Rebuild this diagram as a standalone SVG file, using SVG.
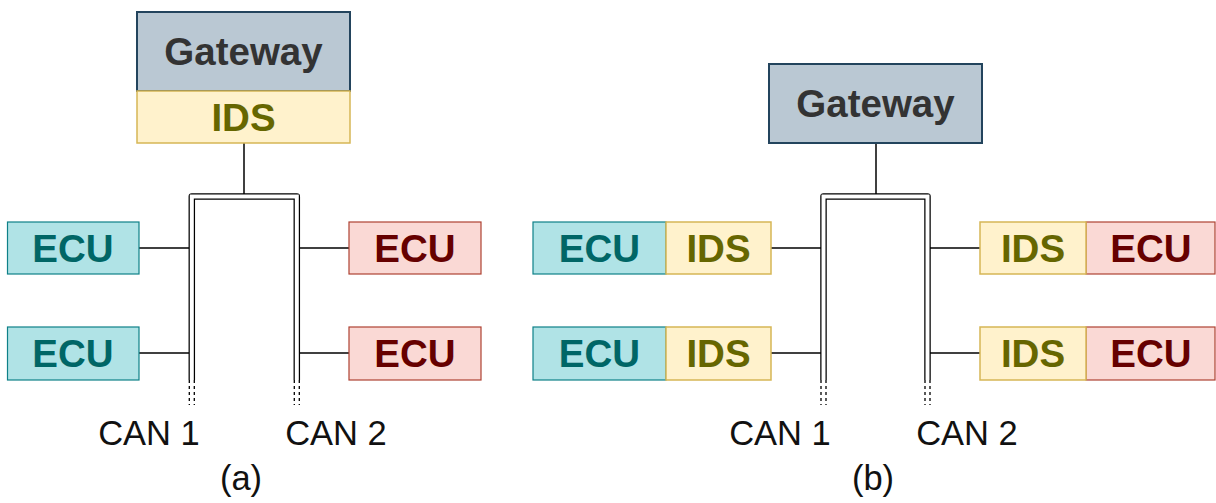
<svg xmlns="http://www.w3.org/2000/svg" width="1216" height="503" viewBox="0 0 1216 503">
  <style>
    .gw { fill: #bac8d3; stroke: #23445d; stroke-width: 2; }
    .ids { fill: #fff2cc; stroke: #d6b656; stroke-width: 1.5; }
    .ecuA { fill: #b0e3e6; stroke: #0e8088; stroke-width: 1.2; }
    .ecuB { fill: #fad9d5; stroke: #ae4132; stroke-width: 1.2; }
    .lbl { font-family: "Liberation Sans", Arial, sans-serif; font-weight: bold; font-size: 38.5px; text-anchor: middle; }
    .tGw { fill: #333333; }
    .tIds { fill: #666600; }
    .tEcuA { fill: #006666; }
    .tEcuB { fill: #660000; }
    .cap { font-family: "Liberation Sans", Arial, sans-serif; font-size: 34.5px; fill: #111111; text-anchor: middle; }
    .wire { stroke: #000000; stroke-width: 1.5; fill: none; }
    .busOuter { stroke: #000000; stroke-width: 6.5; fill: none; stroke-linejoin: round; }
    .busInner { stroke: #ffffff; stroke-width: 4; fill: none; stroke-linejoin: miter; }
    .busDash { stroke: #000000; stroke-width: 1.3; fill: none; stroke-dasharray: 3 3; }
  </style>

  <!-- connectors: CAN buses and stubs -->
  <g id="connectors">
    <!-- (a) -->
    <line class="wire" x1="244" y1="143" x2="244" y2="194"/>
    <path class="busOuter" d="M191.8,380 V196.5 H296.8 V380"/>
    <path class="busInner" d="M191.8,382 V196.5 H296.8 V382"/>
    <line class="busDash" x1="189.3" y1="380" x2="189.3" y2="405"/>
    <line class="busDash" x1="194.3" y1="380" x2="194.3" y2="405"/>
    <line class="busDash" x1="294.3" y1="380" x2="294.3" y2="405"/>
    <line class="busDash" x1="299.3" y1="380" x2="299.3" y2="405"/>
    <line class="wire" x1="139" y1="248" x2="189" y2="248"/>
    <line class="wire" x1="139" y1="353" x2="189" y2="353"/>
    <line class="wire" x1="299.5" y1="248" x2="349" y2="248"/>
    <line class="wire" x1="299.5" y1="353" x2="349" y2="353"/>

    <!-- (b) -->
    <line class="wire" x1="876" y1="143" x2="876" y2="194"/>
    <path class="busOuter" d="M823.5,380 V196.5 H927.5 V380"/>
    <path class="busInner" d="M823.5,382 V196.5 H927.5 V382"/>
    <line class="busDash" x1="821" y1="380" x2="821" y2="405"/>
    <line class="busDash" x1="826" y1="380" x2="826" y2="405"/>
    <line class="busDash" x1="925" y1="380" x2="925" y2="405"/>
    <line class="busDash" x1="930" y1="380" x2="930" y2="405"/>
    <line class="wire" x1="771" y1="248" x2="821" y2="248"/>
    <line class="wire" x1="771" y1="353" x2="821" y2="353"/>
    <line class="wire" x1="930" y1="248" x2="980" y2="248"/>
    <line class="wire" x1="930" y1="353" x2="980" y2="353"/>
  </g>

  <!-- (a) gateway with IDS -->
  <g id="gatewayA">
    <rect class="gw" x="137" y="12" width="213" height="79"/>
    <text class="lbl tGw" x="243.5" y="64.5">Gateway</text>
  </g>
  <g id="idsGatewayA">
    <rect class="ids" x="137" y="91" width="213" height="52"/>
    <text class="lbl tIds" x="243.5" y="130.5">IDS</text>
  </g>

  <!-- (a) ECUs -->
  <g id="ecuA1">
    <rect class="ecuA" x="7.5" y="222" width="131.5" height="52"/>
    <text class="lbl tEcuA" x="73" y="261.5">ECU</text>
  </g>
  <g id="ecuA2">
    <rect class="ecuA" x="7.5" y="327" width="131.5" height="53"/>
    <text class="lbl tEcuA" x="73" y="367">ECU</text>
  </g>
  <g id="ecuA3">
    <rect class="ecuB" x="349" y="222" width="132" height="52"/>
    <text class="lbl tEcuB" x="415" y="261.5">ECU</text>
  </g>
  <g id="ecuA4">
    <rect class="ecuB" x="349" y="327" width="132" height="53"/>
    <text class="lbl tEcuB" x="415" y="367">ECU</text>
  </g>

  <!-- (b) gateway -->
  <g id="gatewayB">
    <rect class="gw" x="769" y="64" width="213" height="79"/>
    <text class="lbl tGw" x="875.5" y="117">Gateway</text>
  </g>

  <!-- (b) ECUs with local IDS -->
  <g id="ecuB1">
    <rect class="ecuA" x="533" y="222" width="133" height="52"/>
    <text class="lbl tEcuA" x="599.5" y="261.5">ECU</text>
    <rect class="ids" x="666" y="222" width="105" height="52"/>
    <text class="lbl tIds" x="718.5" y="261.5">IDS</text>
  </g>
  <g id="ecuB2">
    <rect class="ecuA" x="533" y="327" width="133" height="53"/>
    <text class="lbl tEcuA" x="599.5" y="367">ECU</text>
    <rect class="ids" x="666" y="327" width="105" height="53"/>
    <text class="lbl tIds" x="718.5" y="367">IDS</text>
  </g>
  <g id="ecuB3">
    <rect class="ecuB" x="1086" y="222" width="129" height="52"/>
    <text class="lbl tEcuB" x="1151" y="261.5">ECU</text>
    <rect class="ids" x="980" y="222" width="106" height="52"/>
    <text class="lbl tIds" x="1033" y="261.5">IDS</text>
  </g>
  <g id="ecuB4">
    <rect class="ecuB" x="1086" y="327" width="129" height="53"/>
    <text class="lbl tEcuB" x="1151" y="367">ECU</text>
    <rect class="ids" x="980" y="327" width="106" height="53"/>
    <text class="lbl tIds" x="1033" y="367">IDS</text>
  </g>

  <!-- bus names and sub-figure captions -->
  <g id="captions">
    <text class="cap" x="149" y="444.5">CAN 1</text>
    <text class="cap" x="336" y="444.5">CAN 2</text>
    <text class="cap" x="241" y="490">(a)</text>
    <text class="cap" x="780" y="444.5">CAN 1</text>
    <text class="cap" x="967" y="444.5">CAN 2</text>
    <text class="cap" x="873" y="490">(b)</text>
  </g>
</svg>
